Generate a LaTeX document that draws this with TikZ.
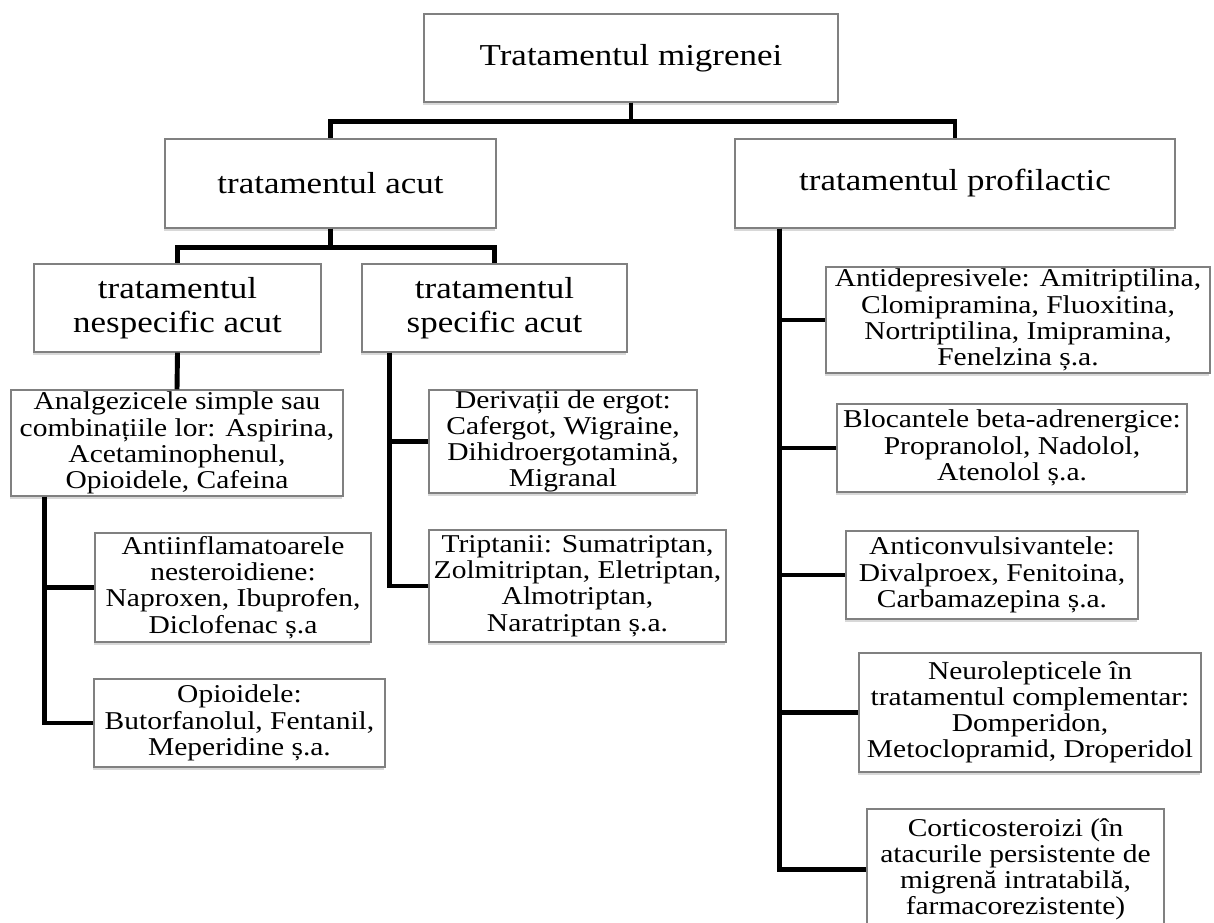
\documentclass[tikz,border=0pt]{standalone}
\usepackage{fontspec}
\setmainfont{Liberation Serif}[FakeStretch=1.15]
\usepackage{tikz}
\usetikzlibrary{positioning, calc, shadows}

\begin{document}
\begin{tikzpicture}[x=0.02cm, y=-0.02cm,
  box/.style={draw=black!50, line width=0.8pt, fill=white, inner sep=0pt,
    align=center, drop shadow={shadow xshift=-0.6pt, shadow yshift=-1.6pt, fill=black!30}},
  big/.style={box, font=\fontsize{17.3}{19}\selectfont},
  small/.style={box, font=\fontsize{14.6}{14.9}\selectfont},
  conn/.style={line width=2.8pt, black}]

\useasboundingbox (0,0) rectangle (1214,923);

%// upper levels
\node [big, minimum width=8.28cm, minimum height=1.76cm] (root) at (631,58) {Tratamentul migrenei};
\node [big, minimum width=6.62cm, minimum height=1.78cm] (acut) at (330.5,183.5) {tratamentul acut};
\node [big, minimum width=8.8cm, minimum height=1.78cm] (profil) at (955,183.5) {tratamentul profilactic};
\node [big, minimum width=5.74cm, minimum height=1.76cm] (nesp) at (177.5,308) {tratamentul\\nespecific acut};
\node [big, minimum width=5.3cm, minimum height=1.76cm] (spec) at (494.5,308) {tratamentul\\specific acut};

%// nespecific
\node [small, minimum width=6.64cm, minimum height=2.12cm] (analg) at (177,443)
  {Analgezicele simple sau\\combinațiile lor: Aspirina,\\Acetaminophenul,\\Opioidele, Cafeina};
\node [small, minimum width=5.52cm, minimum height=2.18cm] (antiinf) at (233,587.5)
  {Antiinflamatoarele\\nesteroidiene:\\Naproxen, Ibuprofen,\\Diclofenac ș.a};
\node [small, minimum width=5.82cm, minimum height=1.76cm] (opioid) at (239.5,723)
  {Opioidele:\\Butorfanolul, Fentanil,\\Meperidine ș.a.};

%// specific
\node [small, minimum width=5.36cm, minimum height=2.06cm] (deriv) at (563,441.5)
  {Derivații de ergot:\\Cafergot, Wigraine,\\Dihidroergotamină,\\Migranal};
\node [small, minimum width=5.94cm, minimum height=2.24cm] (tript) at (577.5,586)
  {Triptanii: Sumatriptan,\\Zolmitriptan, Eletriptan,\\Almotriptan,\\Naratriptan ș.a.};

%// profilactic
\node [small, minimum width=7.68cm, minimum height=2.12cm] (antidep) at (1018,320)
  {Antidepresivele: Amitriptilina,\\Clomipramina, Fluoxitina,\\Nortriptilina, Imipramina,\\Fenelzina ș.a.};
\node [small, minimum width=7.0cm, minimum height=1.76cm] (bloc) at (1012,448)
  {Blocantele beta-adrenergice:\\Propranolol, Nadolol,\\Atenolol ș.a.};
\node [small, minimum width=5.84cm, minimum height=1.76cm] (antic) at (992,575)
  {Anticonvulsivantele:\\Divalproex, Fenitoina,\\Carbamazepina ș.a.};
\node [small, minimum width=6.84cm, minimum height=2.38cm] (neuro) at (1030,712.5)
  {Neurolepticele în\\tratamentul complementar:\\Domperidon,\\Metoclopramid, Droperidol};
\node [small, minimum width=5.94cm, minimum height=2.42cm] (cortico) at (1015.5,869.5)
  {Corticosteroizi (în\\atacurile persistente de\\migrenă intratabilă,\\farmacorezistente)};

%// connectors
\foreach \child in {acut, profil}
\draw [conn] (root.south) -- ++(0,19) -| (\child.north);
\foreach \child in {nesp, spec}
\draw [conn] (acut.south) -- ++(0,19) -| (\child.north);
\draw [conn] (nesp.south) -- (analg.north);

\foreach \child in {antiinf, opioid}
\draw [conn] ([xshift=0.68cm]analg.south west) |- (\child.west);
\foreach \child in {deriv, tript}
\draw [conn] ([xshift=0.56cm]spec.south west) |- (\child.west);
\foreach \child in {antidep, bloc, antic, neuro, cortico}
\draw [conn] ([xshift=0.9cm]profil.south west) |- (\child.west);

\end{tikzpicture}
\end{document}
